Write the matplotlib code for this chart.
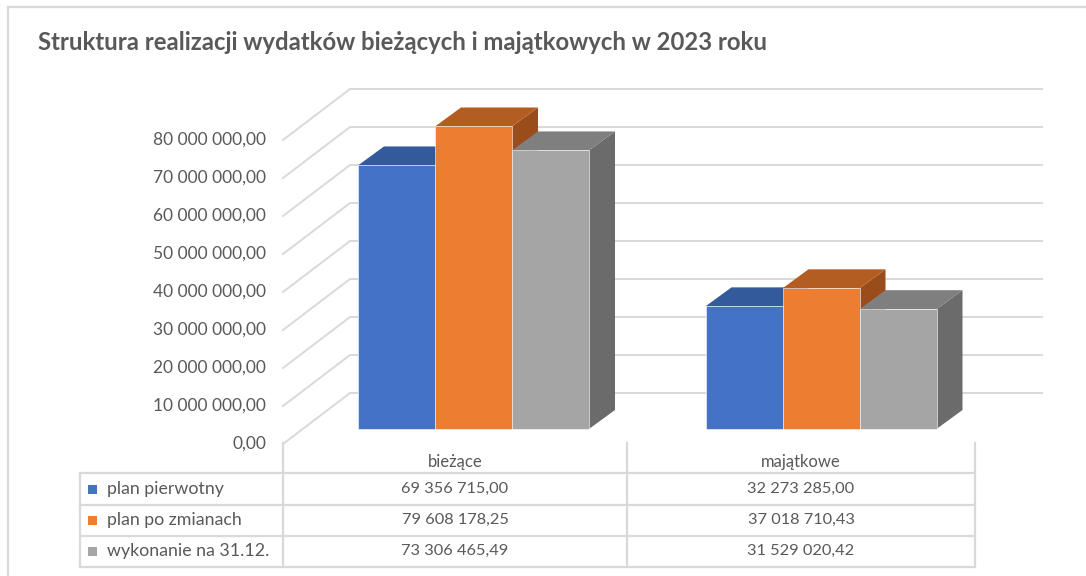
import matplotlib
matplotlib.use('Agg')
import matplotlib.pyplot as plt
from matplotlib.patches import Polygon, Rectangle
from matplotlib.lines import Line2D
from matplotlib import transforms

# dane
kategorie = ['bieżące', 'majątkowe']
serie = ['plan pierwotny', 'plan po zmianach', 'wykonanie na 31.12.']
plan_pierwotny = [69356715.00, 32273285.00]
plan_po_zmianach = [79608178.25, 37018710.43]
wykonanie = [73306465.49, 31529020.42]
os_y = [0, 10e6, 20e6, 30e6, 40e6, 50e6, 60e6, 70e6, 80e6]
tytul = 'Struktura realizacji wydatków bieżących i majątkowych w 2023 roku'

wartosci = [plan_pierwotny, plan_po_zmianach, wykonanie]
kolory = ['#4472C4', '#ED7D31', '#A5A5A5']
kolory_gora = ['#335A9A', '#B45D22', '#7F7F7F']
kolory_bok = ['#2B4C85', '#9A4D1B', '#6B6B6B']
TXT = '#595959'
SIATKA = '#D9D9D9'
FONT = 'Lato'

W, H = 1086, 576
PX_KAT = 347.5          # pikseli na kategorie
PX_WART = 3.8e-6        # pikseli na jednostke wartosci


def fmt(v):
    return f'{v:,.2f}'.replace(',', ' ').replace('.', ',')


fig = plt.figure(figsize=(W / 100, H / 100), dpi=100)
ax = fig.add_axes([0, 0, 1, 1])
ax.set_xlim(-473.5 / PX_KAT, (W - 473.5) / PX_KAT)
ax.set_ylim(-147 / PX_WART, (H - 147) / PX_WART)
ax.axis('off')

# piksele liczone od lewego gornego rogu
px = transforms.Affine2D().scale(1 / W, -1 / H).translate(0, 1) + fig.transFigure

# przesuniecia glebokosci (piksele -> jednostki danych)
dxf, dyf = 20 / PX_KAT, 15 / PX_WART      # plaszczyzna slupkow -> przod podlogi
dxb, dyb = 47 / PX_KAT, 36 / PX_WART      # plaszczyzna slupkow -> tylna sciana
dxs, dys = 26 / PX_KAT, 19 / PX_WART      # glebokosc slupka
x_lewo = (303 - 473.5) / PX_KAT
x_prawo = (995 - 473.5) / PX_KAT

# siatka: linie po podlodze (lewy bok) i na tylnej scianie
for v in os_y:
    ax.plot([x_lewo - dxf, x_lewo + dxb, x_prawo + dxb],
            [v - dyf, v + dyb, v + dyb], color=SIATKA, lw=1.4, zorder=1)
    ax.text(x_lewo - dxf - 17 / PX_KAT, v - dyf, fmt(v), ha='right', va='center',
            fontsize=12.5, color=TXT, family=FONT)

# slupki 3D
szer = 77 / PX_KAT
for i, seria in enumerate(wartosci):
    for k, v in enumerate(seria):
        x0 = k + (i - 1.5) * szer
        x1 = x0 + szer
        z = 3 + i
        ax.add_patch(Polygon([(x1, 0), (x1 + dxs, dys), (x1 + dxs, v + dys), (x1, v)],
                             closed=True, fc=kolory_bok[i], ec='none', zorder=z))
        ax.add_patch(Polygon([(x0, v), (x0 + dxs, v + dys), (x1 + dxs, v + dys), (x1, v)],
                             closed=True, fc=kolory_gora[i], ec='none', zorder=z))
        ax.bar(x0, v, width=szer, align='edge', color=kolory[i], zorder=z,
               edgecolor='#FFFFFF', linewidth=0.4)

# tabela danych
def linia(x, y):
    fig.add_artist(Line2D(x, y, transform=px, color=SIATKA, lw=1.6))

for yy in [473, 505, 536, 567]:
    linia([80, 975], [yy, yy])
linia([80, 80], [473, 567])
for xx in [283, 627, 975]:
    linia([xx, xx], [443, 567])

srodki = [455, 801]
wiersze = [489, 520, 551]
for k, kat in enumerate(kategorie):
    fig.text(srodki[k] / W, 1 - 462 / H, kat, ha='center', va='center',
             fontsize=12, color=TXT, family=FONT)
for i, nazwa in enumerate(serie):
    y = wiersze[i]
    fig.add_artist(Rectangle((88, y - 4.5), 9, 9, transform=px, fc=kolory[i], ec='none'))
    fig.text(107 / W, 1 - y / H, nazwa, ha='left', va='center',
             fontsize=12.8, color=TXT, family=FONT)
    for k in range(len(kategorie)):
        fig.text(srodki[k] / W, 1 - y / H, fmt(wartosci[i][k]), ha='center', va='center',
                 fontsize=11.8, color=TXT, family=FONT)

# ramka wykresu
fig.add_artist(Line2D([8, W], [7, 7], transform=px, color=SIATKA, lw=1.6))
fig.add_artist(Line2D([8, 8], [7, H], transform=px, color=SIATKA, lw=1.6))

fig.text(38 / W, 1 - 42 / H, tytul, ha='left', va='center', fontsize=17.2,
         fontweight='bold', color=TXT, family=FONT)

fig.savefig('out.png', dpi=100)
